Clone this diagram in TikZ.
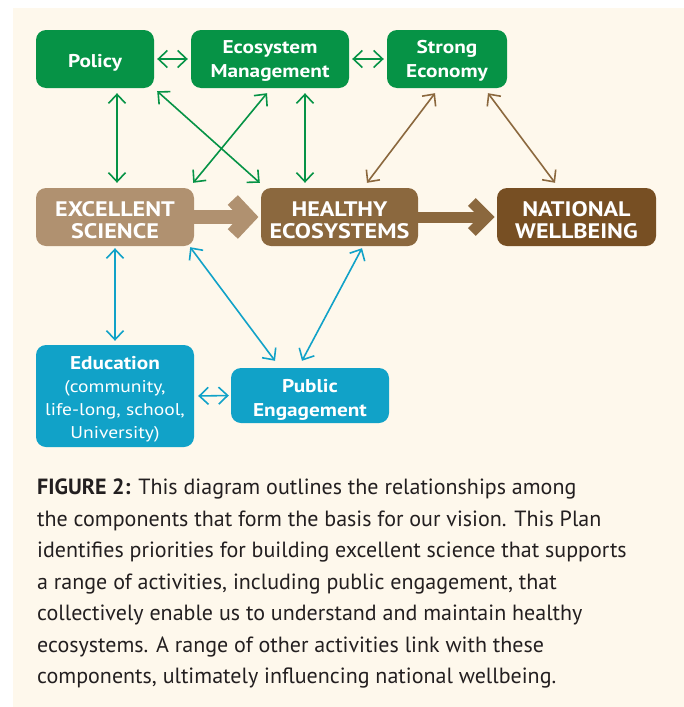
\documentclass[tikz,border=0pt]{standalone}
\usepackage{fontspec}
\setmainfont{PT Sans}
\newfontfamily\boxfont[FakeStretch=1.15]{PT Sans}
\usetikzlibrary{arrows.meta}
\definecolor{bgc}{RGB}{254,248,236}
\definecolor{grn}{RGB}{6,147,70}
\definecolor{tanc}{RGB}{176,145,112}
\definecolor{hbrown}{RGB}{139,104,62}
\definecolor{nbrown}{RGB}{119,79,35}
\definecolor{blu}{RGB}{17,162,200}
\definecolor{capc}{RGB}{35,31,32}
\begin{document}
\begin{tikzpicture}[x=1pt,y=-1pt,
  box/.style={rounded corners=10pt, inner sep=0pt},
  boxtext/.style={inner sep=0pt, align=center, text=white,
    font=\boxfont\bfseries\fontsize{18.5}{24}\selectfont},
  bigtext/.style={boxtext, font=\boxfont\bfseries\fontsize{21}{22}\selectfont},
  link/.style={line width=1.6pt,
    {Straight Barb[length=9pt,width=17pt]}-{Straight Barb[length=9pt,width=17pt]}},
  flowshaft/.style={line width=#1},
  chev/.style={line width=#1, line join=miter, miter limit=10}
]
\fill[white] (0,0) rectangle (684,707);
\fill[bgc] (13,8) rectangle (684,707);
\useasboundingbox (0,0) rectangle (684,707);

% top row
\node[box, fill=grn, minimum width=118pt, minimum height=58pt] (po) at (95,59) {};
\node[box, fill=grn, minimum width=158pt, minimum height=58pt] (em) at (270,59) {};
\node[box, fill=grn, minimum width=120pt, minimum height=58pt] (se) at (447,59) {};
\node[boxtext] (pot) at ([yshift=-4]po.center) {Policy};
\node[boxtext] (emt) at ([yshift=-2]em.center) {Ecosystem\\Management};
\node[boxtext] (set) at ([yshift=-2]se.center) {Strong\\Economy};

% middle row
\node[box, fill=tanc, minimum width=158pt, minimum height=58pt] (ex) at (115,217) {};
\node[box, fill=hbrown, minimum width=157pt, minimum height=58pt] (he) at (339.5,217) {};
\node[box, fill=nbrown, minimum width=159pt, minimum height=58pt] (na) at (576.5,217) {};
\node[bigtext] (ext) at ([yshift=-3]ex.center) {EXCELLENT\\SCIENCE};
\node[bigtext] (het) at ([yshift=-3]he.center) {HEALTHY\\ECOSYSTEMS};
\node[bigtext] (nat) at ([yshift=-3]na.center) {NATIONAL\\WELLBEING};

% bottom row
\node[box, fill=blu, minimum width=158pt, minimum height=102pt] (ed) at (115,396) {};
\node[box, fill=blu, minimum width=158pt, minimum height=55pt] (pe) at (310,395.5) {};
\node[boxtext, font=\boxfont\fontsize{17}{23}\selectfont] (edt) at ([yshift=-3.5]ed.center)
  {{\bfseries\fontsize{18.5}{23}\selectfont Education}\\(community,\\life-long, school,\\University)};
\node[boxtext] (pet) at ([yshift=-4]pe.center) {Public\\Engagement};

% green links
\draw[link, grn] ([xshift=3]po.east) -- ([xshift=-3]em.west);
\draw[link, grn] ([xshift=3]em.east) -- ([xshift=-3]se.west);
\draw[link, grn] ([xshift=22,yshift=-5]po.south) -- ([xshift=2,yshift=5]ex.north);
\draw[link, grn] ([xshift=3,yshift=-3]po.south east) -- ([xshift=-1,yshift=5]he.north west);
\draw[link, grn] ([xshift=-3,yshift=-5]em.south) -- ([xshift=-1,yshift=5]ex.north east);
\draw[link, grn] ([xshift=35,yshift=-5]em.south) -- ([xshift=-34.5,yshift=5]he.north);

% brown links
\draw[link, hbrown] ([xshift=-12,yshift=-5]se.south) -- ([xshift=27.5,yshift=5]he.north);
\draw[link, hbrown] ([xshift=41,yshift=-5]se.south) -- ([xshift=-21.5,yshift=5]na.north);

% blue links
\draw[link, blu] ([yshift=-2]ex.south) -- ([yshift=4]ed.north);
\draw[link, blu] ([xshift=-4,yshift=-1]ex.south east) -- ([xshift=-35,yshift=7]pe.north);
\draw[link, blu] ([xshift=22.5,yshift=-2]he.south) -- ([xshift=-8,yshift=7]pe.north);
\draw[link, blu] ([xshift=4]ed.east) -- ([xshift=-2]pe.west);

% thick flow arrows
\draw[flowshaft=14pt, tanc] (ex.east) -- ([xshift=-12]he.west);
\draw[chev=14pt, tanc] ([xshift=-28,yshift=17]he.west) -- ([xshift=-12]he.west) -- ([xshift=-28,yshift=-17]he.west);
\draw[flowshaft=11pt, hbrown] (he.east) -- ([xshift=-10]na.west);
\draw[chev=11pt, hbrown] ([xshift=-25,yshift=15]na.west) -- ([xshift=-10]na.west) -- ([xshift=-25,yshift=-15]na.west);

% caption
\node[anchor=north west, inner sep=0pt, align=left, text=capc,
  font=\fontsize{22}{31.5}\selectfont] (cap) at (37,479)
 {\textbf{FIGURE 2:} This diagram outlines the relationships among\\
  the components that form the basis for our vision. This Plan\\
  identifies priorities for building excellent science that supports\\
  a range of activities, including public engagement, that\\
  collectively enable us to understand and maintain healthy\\
  ecosystems. A range of other activities link with these\\
  components, ultimately influencing national wellbeing.};
\end{tikzpicture}
\end{document}
